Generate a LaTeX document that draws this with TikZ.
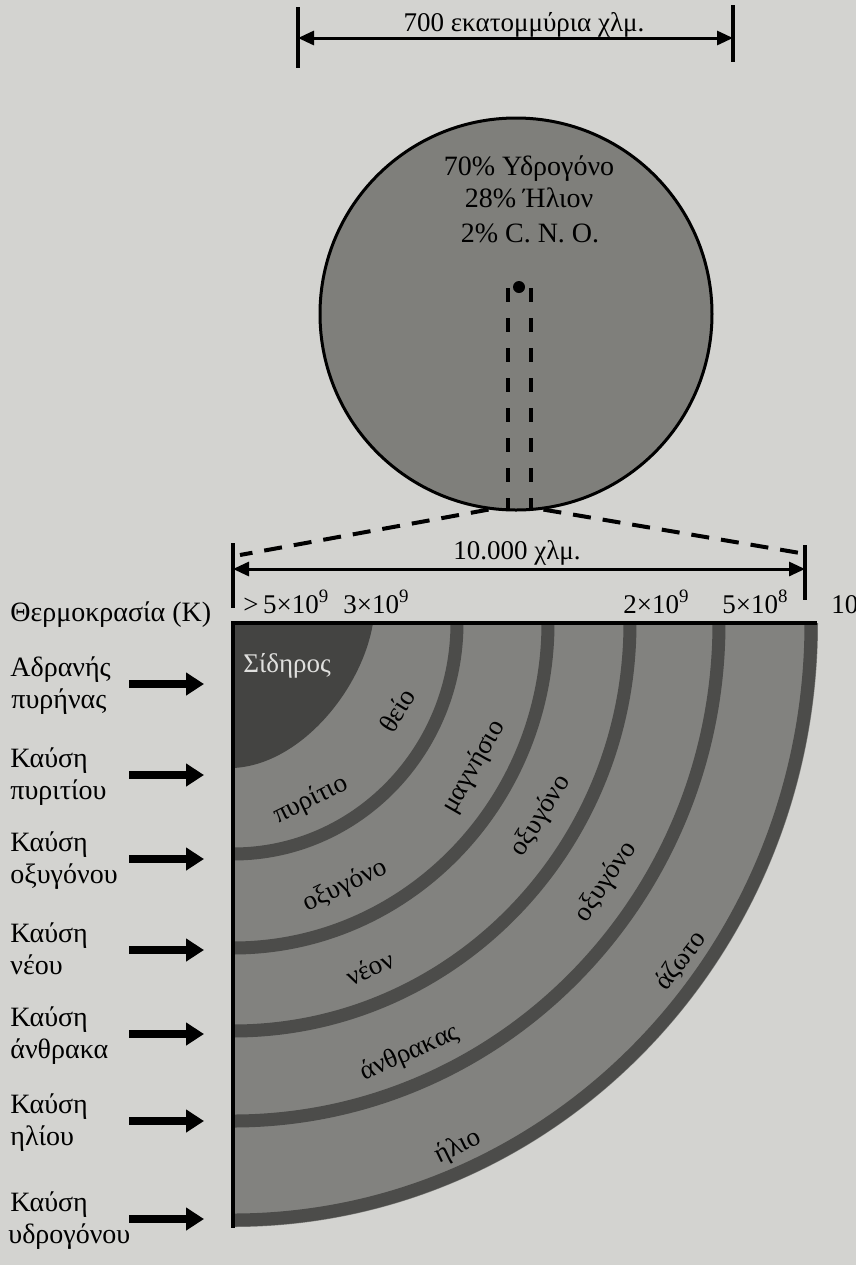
\documentclass[tikz,border=0pt]{standalone}
\usepackage{fontspec}
\setmainfont{Liberation Serif}
\usetikzlibrary{arrows.meta}
\definecolor{paper}{RGB}{211,211,208}
\definecolor{shell}{RGB}{130,130,127}
\definecolor{ring}{RGB}{76,76,74}
\definecolor{ironcore}{RGB}{68,68,66}
\definecolor{starbody}{RGB}{127,127,123}
\definecolor{ironlabel}{RGB}{224,224,222}
\begin{document}
\begin{tikzpicture}[x=0.5pt,y=-0.5pt,
  txt/.style={font=\fontsize{13.5}{16}\selectfont, inner sep=0pt},
  comptxt/.style={font=\fontsize{14}{16}\selectfont, inner sep=0pt, anchor=base},
  sidelabel/.style={font=\fontsize{14}{16}\selectfont, inner sep=0pt, anchor=base west},
  templabel/.style={txt, anchor=base west},
  shelllabel/.style={txt},
  dimline/.style={line width=1.5pt, {Triangle[length=8pt,width=7pt]}-{Triangle[length=8pt,width=7pt]}},
  dimtick/.style={line width=2pt},
  burnarrow/.style={line width=4pt, -{Triangle[length=9pt,width=11pt]}},
  bandline/.style={ring, line width=6.5pt},
  zoomline/.style={line width=2pt, dash pattern=on 9pt off 6pt},
  coreline/.style={line width=2pt, dash pattern=on 7pt off 8pt}]
\useasboundingbox (0,0) rectangle (856,1265);
\fill[paper] (0,0) rectangle (856,1265);

% ---- the star as a whole ----
\node[circle, draw, line width=1.5pt, fill=starbody, minimum size=196pt, inner sep=0pt] (star) at (516,314) {};
\node[comptxt] (comp1) at (529,175) {70\% Υδρογόνο};
\node[comptxt] (comp2) at (529,207) {28\% Ήλιον};
\node[comptxt] (comp3) at (530,242) {2\% C. N. O.};

% core and the column cut out of it
\coordinate (corept) at (519,287);
\fill (corept) circle[radius=6];
\coordinate (colLtop) at (508,288);
\coordinate (colLbot) at (508,510);
\coordinate (colRtop) at (531,288);
\coordinate (colRbot) at (531,510);
\draw[coreline] (colLtop) -- (colLbot);
\draw[coreline] (colRtop) -- (colRbot);

% diameter of the star
\coordinate (dTopLa) at (298,7);   \coordinate (dTopLb) at (298,68);
\coordinate (dTopRa) at (733,5);   \coordinate (dTopRb) at (733,62);
\coordinate (dTopL) at (298,38);   \coordinate (dTopR) at (733,38);
\draw[dimtick] (dTopLa) -- (dTopLb);
\draw[dimtick] (dTopRa) -- (dTopRb);
\draw[dimline] (dTopL) -- (dTopR);
\node[txt, anchor=base] (dTopText) at (524,31) {700 εκατομμύρια χλμ.};

% enlargement of the core
\coordinate (zoomL) at (240,555);
\coordinate (zoomR) at (800,553);
\draw[zoomline] (star.-98) -- (zoomL);
\draw[zoomline] (star.-82) -- (zoomR);

\coordinate (dCoreLa) at (233,543); \coordinate (dCoreLb) at (233,608);
\coordinate (dCoreRa) at (805,545); \coordinate (dCoreRb) at (805,600);
\coordinate (dCoreL) at (233,569);  \coordinate (dCoreR) at (805,569);
\draw[dimtick] (dCoreLa) -- (dCoreLb);
\draw[dimtick] (dCoreRa) -- (dCoreRb);
\draw[dimline] (dCoreL) -- (dCoreR);
\node[txt, anchor=base] (dCoreText) at (517,559) {10.000 χλμ.};

% temperatures
\node[sidelabel] (tempTitle) at (10,621) {Θερμοκρασία (K)};
\node[templabel] (temp1) at (243,613) {>\,5×10\textsuperscript{9}};
\node[templabel] (temp2) at (343,613) {3×10\textsuperscript{9}};
\node[templabel] (temp3) at (623,613) {2×10\textsuperscript{9}};
\node[templabel] (temp4) at (722,613) {5×10\textsuperscript{8}};
\node[templabel] (temp5) at (831,613) {10\textsuperscript{7}};

% ---- shells of the core (quarter section) ----
\coordinate (C) at (233,623);
\fill[shell] (C) -- ++(585,0) arc[start angle=0, end angle=90, x radius=585, y radius=604] -- cycle;
\fill[ironcore] (C) -- (373,623) .. controls (362,690) and (300,765) .. (233,768) -- cycle;
\foreach \rx/\ry in {224/231, 315/325, 397/408, 486/498, 578/597}
  \draw[bandline] (C) ++(\rx,0) arc[start angle=0, end angle=90, x radius=\rx, y radius=\ry];
\draw[line width=2pt] (817,623) -- (C) -- (233,1228);

\node[txt, anchor=base west, text=ironlabel] (iron) at (243,672) {Σίδηρος};
\node[shelllabel, rotate=58] (s1a) at (397,710) {θείο};
\node[shelllabel, rotate=26] (s1b) at (311,800) {πυρίτιο};
\node[shelllabel, rotate=60] (s2a) at (474,767) {μαγνήσιο};
\node[shelllabel, rotate=25] (s2b) at (345,886) {οξυγόνο};
\node[shelllabel, rotate=58] (s3a) at (541,816) {οξυγόνο};
\node[shelllabel, rotate=25] (s3b) at (370,968) {νέον};
\node[shelllabel, rotate=56] (s4a) at (606,882) {οξυγόνο};
\node[shelllabel, rotate=24] (s4b) at (410,1053) {άνθρακας};
\node[shelllabel, rotate=52] (s5a) at (681,961) {άζωτο};
\node[shelllabel, rotate=26] (s5b) at (458,1147) {ήλιο};

% ---- burning stages ----
\node[sidelabel] (b1a) at (10,676)  {Αδρανής};
\node[sidelabel] (b1b) at (11,708)  {πυρήνας};
\node[sidelabel] (b2a) at (10,767)  {Καύση};
\node[sidelabel] (b2b) at (10,799)  {πυριτίου};
\node[sidelabel] (b3a) at (10,851)  {Καύση};
\node[sidelabel] (b3b) at (10,883)  {οξυγόνου};
\node[sidelabel] (b4a) at (10,942)  {Καύση};
\node[sidelabel] (b4b) at (10,974)  {νέου};
\node[sidelabel] (b5a) at (10,1026) {Καύση};
\node[sidelabel] (b5b) at (10,1058) {άνθρακα};
\node[sidelabel] (b6a) at (10,1113) {Καύση};
\node[sidelabel] (b6b) at (10,1145) {ηλίου};
\node[sidelabel] (b7a) at (10,1211) {Καύση};
\node[sidelabel] (b7b) at (8,1243)  {υδρογόνου};

\foreach \k/\y in {1/684, 2/775, 3/859, 4/950, 5/1034, 6/1121, 7/1219} {
  \coordinate (arrS\k) at (129,\y);
  \coordinate (arrE\k) at (204,\y);
  \draw[burnarrow] (arrS\k) -- (arrE\k);
}
\end{tikzpicture}
\end{document}
